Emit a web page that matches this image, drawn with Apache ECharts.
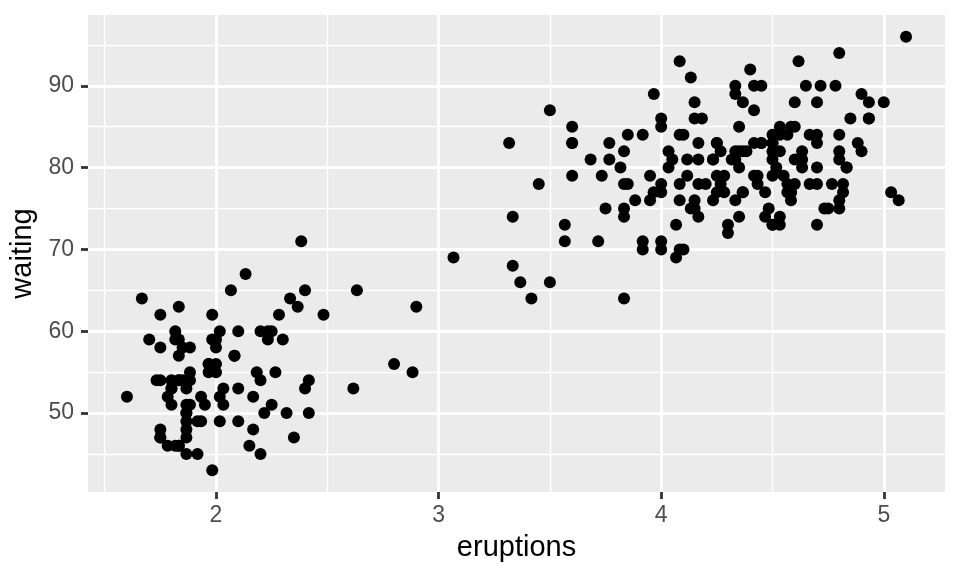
<!DOCTYPE html>
<html>
<head>
<meta charset="utf-8">
<script src="https://cdn.jsdelivr.net/npm/echarts@6/dist/echarts.min.js"></script>
<style>html,body{margin:0;padding:0;background:#fff;}#c{width:960px;height:576px;}</style>
</head>
<body>
<div id="c"></div>
<script>
const eruptions = [3.600,1.800,3.333,2.283,4.533,2.883,4.700,3.600,1.950,4.350,1.833,3.917,4.200,1.750,4.700,2.167,1.750,4.800,1.600,4.250,
1.800,1.750,3.450,3.067,4.533,3.600,1.967,4.083,3.850,4.433,4.300,4.467,3.367,4.033,3.833,2.017,1.867,4.833,1.833,4.783,
4.350,1.883,4.567,1.750,4.533,3.317,3.833,2.100,4.633,2.000,4.800,4.716,1.833,4.833,1.733,4.883,3.717,1.667,4.567,4.317,
2.233,4.500,1.750,4.800,1.817,4.400,4.167,4.700,2.067,4.700,4.033,1.967,4.500,4.000,1.983,5.067,2.017,4.567,3.883,3.600,
4.133,4.333,4.100,2.633,4.067,4.933,3.950,4.517,2.167,4.000,2.200,4.333,1.867,4.817,1.833,4.300,4.667,3.750,1.867,4.900,
2.483,4.367,2.100,4.500,4.050,1.867,4.700,1.783,4.850,3.683,4.733,2.300,4.900,4.417,1.700,4.633,2.317,4.600,1.817,4.417,
2.617,4.067,4.250,1.967,4.600,3.767,1.917,4.500,2.267,4.650,1.867,4.167,2.800,4.333,1.833,4.383,1.883,4.933,2.033,3.733,
4.233,2.233,4.533,4.817,4.333,1.983,4.633,2.017,5.100,1.800,5.033,4.000,2.400,4.600,3.567,4.000,4.500,4.083,1.800,3.967,
2.200,4.150,2.000,3.833,3.500,4.583,2.367,5.000,1.933,4.617,1.917,2.083,4.583,3.333,4.167,4.333,4.500,2.417,4.000,4.167,
1.883,4.583,4.250,3.767,2.033,4.433,4.083,1.833,4.417,2.183,4.800,1.833,4.800,4.100,3.966,4.233,3.500,4.366,2.250,4.667,
2.100,4.350,4.133,1.867,4.600,1.783,4.367,3.850,1.933,4.500,2.383,4.700,1.867,3.833,3.417,4.233,2.400,4.800,2.000,4.150,
1.867,4.267,1.750,4.483,4.000,4.117,4.083,4.267,3.917,4.550,4.083,2.417,4.183,2.217,4.450,1.883,1.850,4.283,3.950,2.333,
4.150,2.350,4.933,2.900,4.583,3.833,2.083,4.367,2.133,4.350,2.200,4.450,3.567,4.500,4.150,3.817,3.917,4.450,2.000,4.283,
4.767,4.533,1.850,4.250,1.983,2.250,4.750,4.117,2.150,4.417,1.817,4.467];
const waiting = [79,54,74,62,85,55,88,85,51,85,54,84,78,47,83,52,62,84,52,79,
51,47,78,69,74,83,55,76,78,79,73,77,66,80,74,52,48,80,59,90,
80,58,84,58,73,83,64,53,82,59,75,90,54,80,54,83,71,64,77,81,
59,84,48,82,60,92,78,78,65,73,82,56,79,71,62,76,60,78,76,83,
75,82,70,65,73,88,76,80,48,86,60,90,50,78,63,72,84,75,51,82,
62,88,49,83,81,47,84,52,86,81,75,59,89,79,59,81,50,85,59,87,
53,69,77,56,88,81,45,82,55,90,45,83,56,89,46,82,51,86,53,79,
81,60,82,77,76,59,80,49,96,53,77,77,65,81,71,70,81,93,53,89,
45,86,58,78,66,76,63,88,52,93,49,57,77,68,81,81,73,50,85,74,
55,77,83,83,51,78,84,46,83,55,81,57,76,84,77,81,87,77,51,78,
60,82,91,53,78,46,77,84,49,83,71,80,49,75,64,76,53,94,55,76,
50,82,54,75,78,79,78,78,70,79,70,54,86,50,90,54,54,77,79,64,
75,47,86,63,85,82,57,82,67,74,54,83,73,73,88,80,71,83,56,79,
78,84,58,83,43,60,75,81,46,90,46,74];
const xTicks = [2, 3, 4, 5];
const xMinor = [1.5, 2.5, 3.5, 4.5];
const yTicks = [50, 60, 70, 80, 90];
const yMinor = [45, 55, 65, 75, 85, 95];
const xRange = [1.425, 5.275];
const yRange = [40.35, 98.65];

const points = eruptions.map((e, i) => [e, waiting[i]]);
const chart = echarts.init(document.getElementById('c'), null, {renderer: 'canvas'});
const FONT = 'Liberation Sans, Arial, Helvetica, sans-serif';
function baseAxis(range) {
  return {type: 'value', min: range[0], max: range[1], axisLine: {show: false}};
}
chart.setOption({
  animation: false,
  backgroundColor: '#fff',
  grid: {left: 88, right: 15, top: 15, bottom: 84, show: true, backgroundColor: '#EBEBEB', borderWidth: 0,
         containLabel: false, outerBoundsMode: 'none'},
  xAxis: [
    Object.assign(baseAxis(xRange), {
      axisTick: {show: false, customValues: xMinor},
      axisLabel: {show: false, customValues: xMinor},
      splitLine: {show: true, lineStyle: {color: '#FFFFFF', width: 1.4}}
    }),
    Object.assign(baseAxis(xRange), {
      position: 'bottom',
      name: 'eruptions', nameLocation: 'middle', nameGap: 41,
      nameTextStyle: {fontFamily: FONT, fontSize: 29, color: '#000'},
      axisTick: {show: true, length: 7, customValues: xTicks, lineStyle: {color: '#333333', width: 2.8}},
      axisLabel: {show: true, margin: 12, customValues: xTicks, fontFamily: FONT, fontSize: 23, color: '#4D4D4D'},
      splitLine: {show: true, lineStyle: {color: '#FFFFFF', width: 2.8}}
    })
  ],
  yAxis: [
    Object.assign(baseAxis(yRange), {
      axisTick: {show: false, customValues: yMinor},
      axisLabel: {show: false, customValues: yMinor},
      splitLine: {show: true, lineStyle: {color: '#FFFFFF', width: 1.4}}
    }),
    Object.assign(baseAxis(yRange), {
      position: 'left',
      name: 'waiting', nameLocation: 'middle', nameGap: 46,
      nameTextStyle: {fontFamily: FONT, fontSize: 29, color: '#000'},
      axisTick: {show: true, length: 7, customValues: yTicks, lineStyle: {color: '#333333', width: 2.8}},
      axisLabel: {show: true, margin: 14, customValues: yTicks, fontFamily: FONT, fontSize: 23, color: '#4D4D4D'},
      splitLine: {show: true, lineStyle: {color: '#FFFFFF', width: 2.8}}
    })
  ],
  series: [{
    type: 'scatter', xAxisIndex: 1, yAxisIndex: 1,
    data: points, symbol: 'circle', symbolSize: 12,
    itemStyle: {color: '#000000', opacity: 1},
    emphasis: {disabled: true}
  }]
});
</script>
</body>
</html>
